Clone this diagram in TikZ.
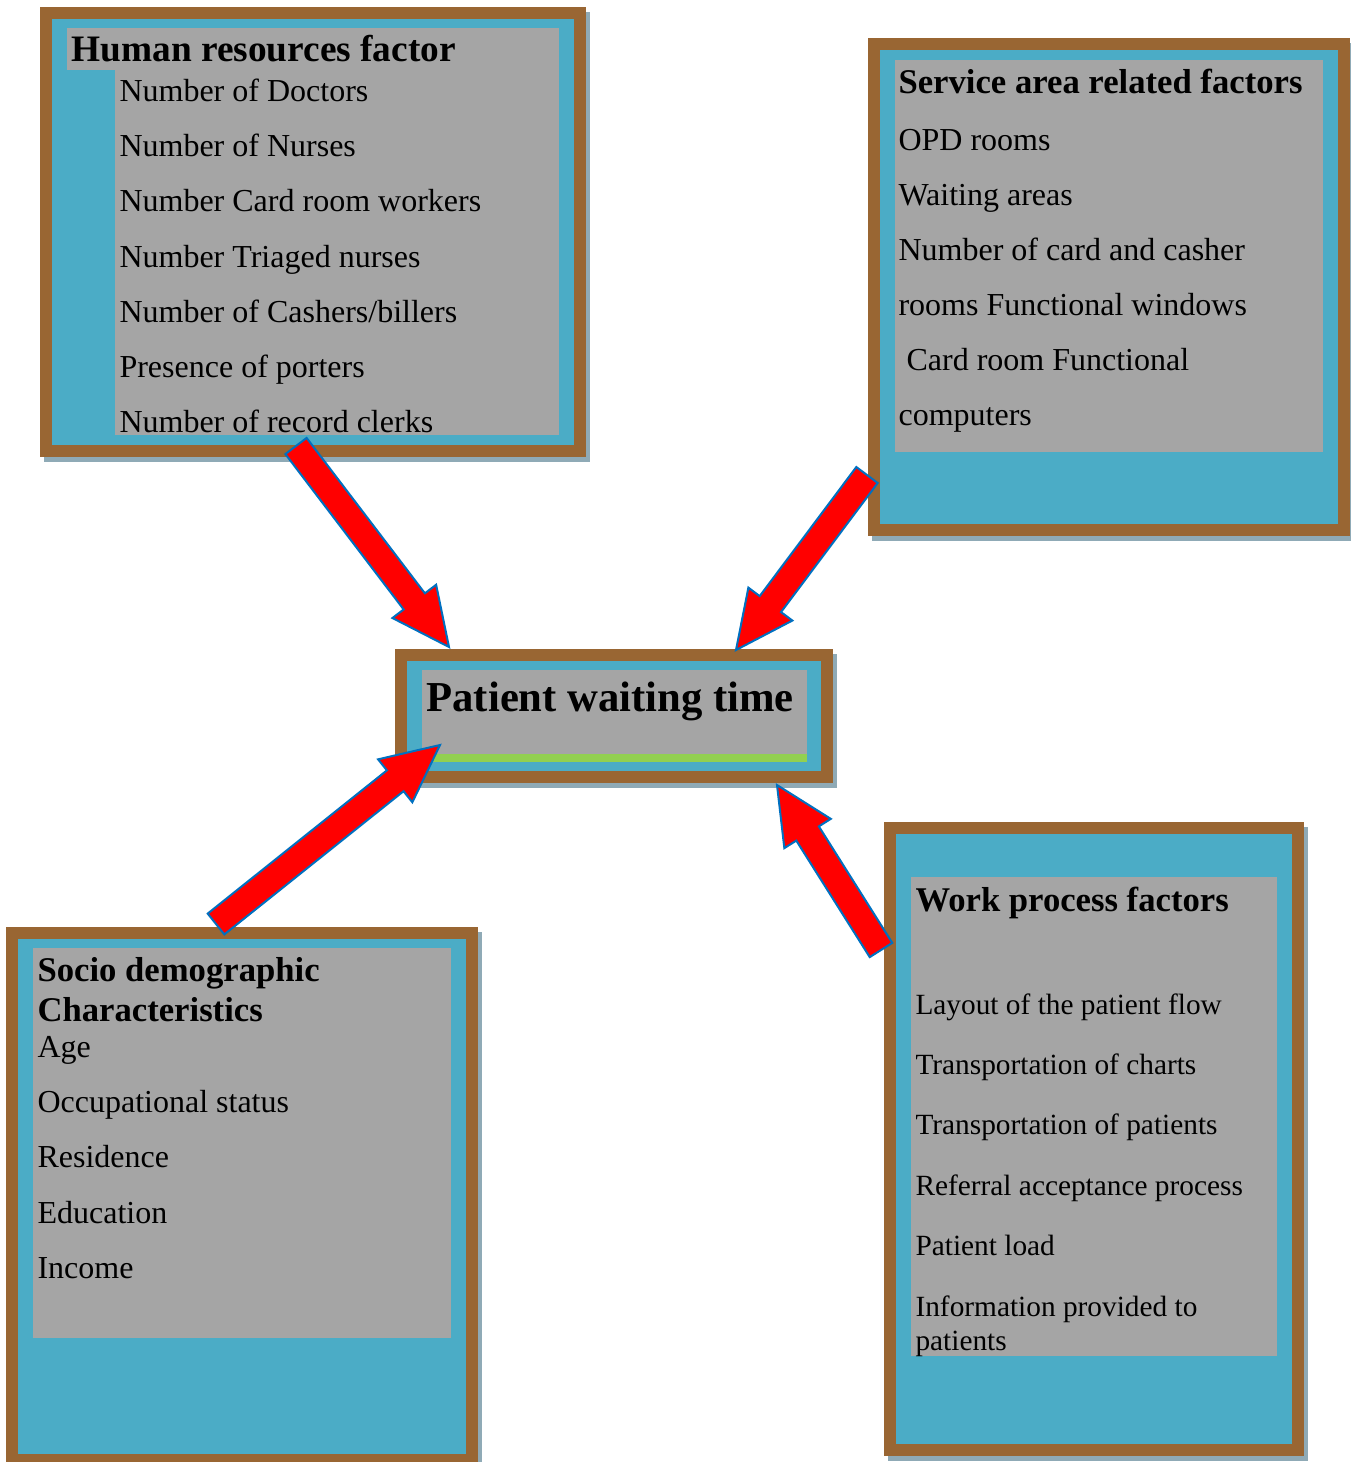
\documentclass[tikz,border=0pt]{standalone}
\usepackage{fontspec}
\setmainfont{Liberation Serif}
\usetikzlibrary{calc}

\definecolor{framebrown}{RGB}{153,102,51}
\definecolor{fillblue}{RGB}{75,172,198}
\definecolor{textgrey}{RGB}{165,165,165}
\definecolor{bandgreen}{RGB}{146,208,80}
\definecolor{shadowgrey}{RGB}{143,170,182}
\definecolor{edgeblue}{RGB}{0,112,192}

\begin{document}
\begin{tikzpicture}[x=0.375pt, y=-0.375pt,
  every node/.style={anchor=base west, inner sep=0pt},
  item/.style={font=\fontsize{12}{14}\selectfont},
  smallitem/.style={font=\fontsize{11}{13}\selectfont},
  head/.style={font=\fontsize{13}{15}\selectfont\bfseries},
  bigarrow/.style={fill=red, draw=edgeblue, line width=0.75pt}]
  \useasboundingbox (0,0) rectangle (1351,1462);
  % frames: shadow, brown edge, blue fill
  \foreach \xa/\ya/\xb/\yb in {40/7/586/457, 868/38/1350/536,
      395/649/833/783, 6/927/478/1466, 884/822/1304/1456} {
    \fill[shadowgrey] (\xa+4,\ya+5) rectangle (\xb+4,\yb+5);
    \fill[framebrown] (\xa,\ya) rectangle (\xb,\yb);
    \fill[fillblue] (\xa+12,\ya+12) rectangle (\xb-12,\yb-12);
  }
  \fill[textgrey] (67,28) rectangle (559,70);
  \fill[textgrey] (115,28) rectangle (559,435);
  \fill[textgrey] (895,60) rectangle (1323,452);
  \fill[textgrey] (422,670) rectangle (807,754);
  \fill[bandgreen] (422,754) rectangle (807,762);
  \fill[textgrey] (33,948) rectangle (451,1338);
  \fill[textgrey] (911,877) rectangle (1277,1356);

  % human resources
  \node[head, font=\fontsize{14}{16}\selectfont\bfseries] (hrhead) at (71,62)
    {Human resources factor};
  \foreach \t [count=\i] in {Number of Doctors, Number of Nurses,
      Number Card room workers, Number Triaged nurses,
      Number of Cashers/billers, Presence of porters,
      Number of record clerks}
    \node[item] (hr\i) at (119,{101.5+55.2*(\i-1)}) {\t};

  % service area
  \node[head] (sahead) at (898,94) {Service area related factors};
  \foreach \x/\t [count=\i] in {898/OPD rooms, 898/Waiting areas,
      898/Number of card and casher, 898/rooms Functional windows,
      906/Card room Functional, 898/computers}
    \node[item] (sa\i) at (\x,{150.5+55*(\i-1)}) {\t};

  % centre
  \node[font=\fontsize{16}{19}\selectfont\bfseries] (pwt) at (426,711)
    {Patient waiting time};

  % socio demographic
  \node[head] (sdhead) at (37,981) {Socio demographic};
  \node[head] (sdhead2) at (37,1021) {Characteristics};
  \foreach \t [count=\i] in {Age, Occupational status, Residence,
      Education, Income}
    \node[item] (sd\i) at (37,{1057.5+55.2*(\i-1)}) {\t};

  % work process
  \node[head] (wphead) at (915,911) {Work process factors};
  \foreach \t [count=\i] in {Layout of the patient flow,
      Transportation of charts, Transportation of patients,
      Referral acceptance process, Patient load, Information provided to}
    \node[smallitem] (wp\i) at (915,{1014+60.4*(\i-1)}) {\t};
  \node[smallitem] (wp7) at (915,1350) {patients};

  % block arrows
  \coordinate (hrtail) at (296,446); \coordinate (hrtip) at (449,647);
  \coordinate (satail) at (867,475); \coordinate (satip) at (736,650);
  \coordinate (sdtail) at (216,924); \coordinate (sdtip) at (440,745);
  \coordinate (wptail) at (881,950); \coordinate (wptip) at (777,785);
  \foreach \s/\e in {hrtail/hrtip, satail/satip, sdtail/sdtip, wptail/wptip} {
    \coordinate (base) at ($(\e)!21.5pt!(\s)$);
    \filldraw[bigarrow] ($(\s)!5pt!90:(\e)$) -- ($(base)!5pt!90:(\e)$)
      -- ($(base)!10.3pt!90:(\e)$) -- (\e) -- ($(base)!10.3pt!-90:(\e)$)
      -- ($(base)!5pt!-90:(\e)$) -- ($(\s)!5pt!-90:(\e)$) -- cycle;
  }
\end{tikzpicture}
\end{document}
